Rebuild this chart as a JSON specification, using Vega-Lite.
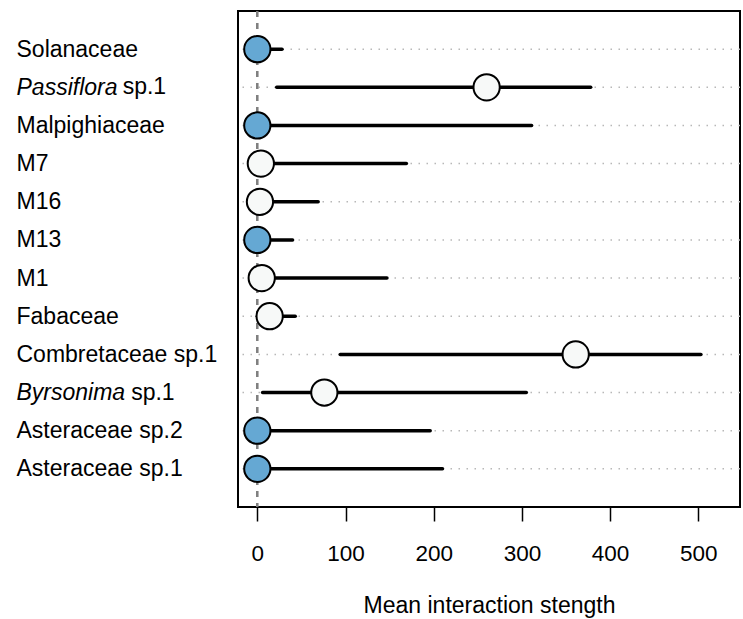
{
  "$schema": "https://vega.github.io/schema/vega-lite/v6.json",
  "width": 502,
  "height": 496,
  "autosize": {"type": "none"},
  "padding": {"left": 238, "top": 11, "right": 3, "bottom": 112},
  "background": "white",
  "config": {
    "view": {"stroke": "black", "strokeWidth": 2},
    "font": "Liberation Sans",
    "axis": {"grid": false}
  },
  "data": {
    "values": [
      {"plant": "Solanaceae", "mean": 0, "low": 0, "high": 28, "group": "zero"},
      {"plant": "Passiflora sp.1", "mean": 260, "low": 22, "high": 378, "group": "nonzero"},
      {"plant": "Malpighiaceae", "mean": 0, "low": 0, "high": 311, "group": "zero"},
      {"plant": "M7", "mean": 4, "low": 0, "high": 169, "group": "nonzero"},
      {"plant": "M16", "mean": 3, "low": 0, "high": 69, "group": "nonzero"},
      {"plant": "M13", "mean": 0, "low": 0, "high": 40, "group": "zero"},
      {"plant": "M1", "mean": 5, "low": 0, "high": 147, "group": "nonzero"},
      {"plant": "Fabaceae", "mean": 14, "low": 0, "high": 43, "group": "nonzero"},
      {"plant": "Combretaceae sp.1", "mean": 361, "low": 94, "high": 503, "group": "nonzero"},
      {"plant": "Byrsonima sp.1", "mean": 76, "low": 6, "high": 305, "group": "nonzero"},
      {"plant": "Asteraceae sp.2", "mean": 0, "low": 0, "high": 196, "group": "zero"},
      {"plant": "Asteraceae sp.1", "mean": 0, "low": 0, "high": 210, "group": "zero"}
    ]
  },
  "encoding": {
    "y": {
      "field": "plant",
      "type": "nominal",
      "sort": null,
      "scale": {"type": "point", "padding": 1},
      "axis": {
        "title": null,
        "domain": false,
        "ticks": false,
        "tickSize": 0,
        "labelAlign": "left",
        "labelPadding": 222,
        "labelFontSize": 23,
        "labelColor": "black",
        "labelFont": "Liberation Sans",
        "labelLimit": 400,
        "labelExpr": "datum.value == 'Passiflora sp.1' ? 'Passiflora' : (datum.value == 'Byrsonima sp.1' ? 'Byrsonima' : datum.value)",
        "labelFontStyle": {
          "condition": {"test": "datum.value == 'Passiflora sp.1' || datum.value == 'Byrsonima sp.1'", "value": "italic"},
          "value": "normal"
        }
      }
    }
  },
  "layer": [
    {
      "mark": {"type": "rule", "color": "#b8b8b8", "strokeWidth": 1.5, "strokeDash": [1.5, 6.5]},
      "encoding": {}
    },
    {
      "mark": {"type": "rule", "color": "#808080", "strokeWidth": 1.5, "strokeDash": [6, 6]},
      "encoding": {"x": {"datum": 0, "type": "quantitative"}, "y": null}
    },
    {
      "mark": {"type": "rule", "color": "black", "strokeWidth": 3.5, "strokeCap": "round"},
      "encoding": {
        "x": {
          "field": "low",
          "type": "quantitative",
          "scale": {"domain": [-21.9, 547.3], "nice": false, "zero": false},
          "axis": {
            "title": "Mean interaction stength",
            "values": [0, 100, 200, 300, 400, 500],
            "domain": false,
            "tickSize": 14,
            "tickColor": "black",
            "tickWidth": 1.5,
            "labelFontSize": 22.5,
            "labelColor": "black",
            "labelPadding": 21,
            "labelFont": "Liberation Sans",
            "titleFontSize": 23,
            "titleFontWeight": "normal",
            "titleColor": "black",
            "titleFont": "Liberation Sans",
            "titlePadding": 30
          }
        },
        "x2": {"field": "high"}
      }
    },
    {
      "mark": {"type": "point", "filled": false, "shape": "circle", "size": 690, "stroke": "black", "strokeWidth": 2, "opacity": 1, "fillOpacity": 1},
      "encoding": {
        "x": {"field": "mean", "type": "quantitative"},
        "fill": {
          "field": "group",
          "type": "nominal",
          "scale": {"domain": ["zero", "nonzero"], "range": ["#65A8D3", "#F7F9F8"]},
          "legend": null
        }
      }
    },
    {
      "transform": [{"filter": "datum.plant == 'Passiflora sp.1'"}],
      "mark": {"type": "text", "text": "sp.1", "align": "left", "baseline": "middle", "fontSize": 23, "font": "Liberation Sans", "color": "black", "dx": 107},
      "encoding": {"x": {"datum": -274, "type": "quantitative"}}
    },
    {
      "transform": [{"filter": "datum.plant == 'Byrsonima sp.1'"}],
      "mark": {"type": "text", "text": "sp.1", "align": "left", "baseline": "middle", "fontSize": 23, "font": "Liberation Sans", "color": "black", "dx": 115.5},
      "encoding": {"x": {"datum": -274, "type": "quantitative"}}
    }
  ]
}
